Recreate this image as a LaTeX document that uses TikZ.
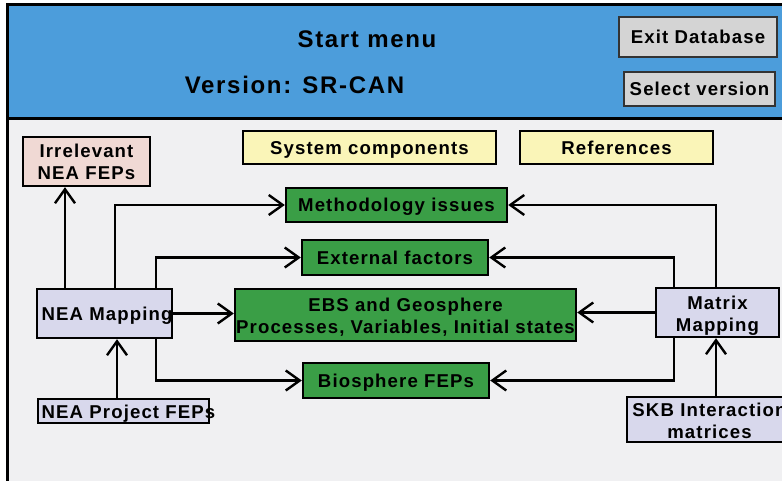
\documentclass[tikz,border=0pt]{standalone}
\usepackage{fontspec}
\setmainfont{Liberation Sans}[LetterSpace=6]
\newfontfamily\headfont{Liberation Sans}[LetterSpace=7]
\usetikzlibrary{arrows.meta}

\definecolor{pagegray}{HTML}{F0F0F2}
\definecolor{headblue}{HTML}{4C9DDB}
\definecolor{btngray}{HTML}{D4D4D4}
\definecolor{notepaper}{HTML}{FAF5B8}
\definecolor{rosebox}{HTML}{F0D9D4}
\definecolor{fepgreen}{HTML}{3A9E46}
\definecolor{mapblue}{HTML}{D8D8EC}

\tikzset{
  box/.style={draw=black, line width=2.4pt, inner sep=0pt,
    font=\bfseries\fontsize{18.6}{22}\selectfont},
  thinbox/.style={box, line width=1.6pt},
  greenbox/.style={box, fill=fepgreen},
  mapbox/.style={box, fill=mapblue},
  srcbox/.style={thinbox, fill=mapblue},
  notebox/.style={box, fill=notepaper},
  rosebx/.style={box, fill=rosebox},
  button/.style={draw=black!80, line width=1.6pt, fill=btngray, inner sep=0pt,
    font=\bfseries\fontsize{18.6}{22}\selectfont},
  headtext/.style={inner sep=0pt, anchor=base,
    font=\headfont\bfseries\fontsize{24}{28}\selectfont},
  conn/.style={line width=2.4pt, -{Straight Barb[length=14pt, width=20pt]}},
}

% box from its corners: name, style, x1, y1, x2, y2, text
\newcommand\cornerbox[7]{%
  \node[#2, minimum width={#5-#3}, minimum height={#6-#4}] (#1)
    at ({(#3+#5)/2},{(#4+#6)/2}) {#7};}
% labels of zero size, so that a box keeps its own size and the text
% may run past its border
\newcommand\oneline[2][0pt]{%
  \makebox[0pt]{\raisebox{-7pt}[0pt][0pt]{\hspace*{#1}#2}}}
\newcommand\twolines[2]{%
  \makebox[0pt]{\raisebox{3.5pt}[0pt][0pt]{#1}}%
  \makebox[0pt]{\raisebox{-18.5pt}[0pt][0pt]{#2}}}

\begin{document}
\begin{tikzpicture}[x=1pt, y=-1pt]
\useasboundingbox (0,0) rectangle (782,481);
\fill[white] (0,0) rectangle (782,481);

% window frame and header bar
\fill[pagegray] (7,5) rectangle (792,490);
\fill[headblue] (7,5) rectangle (792,119);
\draw[line width=3pt] (7,490) -- (7,5) -- (792,5);
\draw[line width=3pt] (7,119) -- (792,119);

\node[headtext] (title) at (367,47.3) {Start menu};
\node[headtext] (version) at (294.5,94) {Version: SR-CAN};
\cornerbox{exit}{button}{619}{17}{777}{57}{\oneline{Exit Database}}
\cornerbox{select}{button}{624}{72}{775}{106}{\oneline{Select version}}

% menu entries
\cornerbox{syscomp}{notebox}{243}{131}{496}{164}{\oneline{System components}}
\cornerbox{refs}{notebox}{520}{131}{713}{164}{\oneline{References}}
\cornerbox{irr}{rosebx}{23}{137}{150}{186}{\twolines{Irrelevant}{NEA FEPs}}

\cornerbox{meth}{greenbox}{286}{188}{507}{222}{\oneline{Methodology issues}}
\cornerbox{ext}{greenbox}{302}{240}{488}{275}{\oneline{External factors}}
\cornerbox{ebs}{greenbox}{235}{289}{576}{341}{\twolines{EBS and Geosphere}{Processes, Variables, Initial states}}
\cornerbox{bio}{greenbox}{303}{363}{489}{398}{\oneline{Biosphere FEPs}}

\cornerbox{nea}{mapbox}{37}{289}{172}{338}{\oneline[5pt]{NEA Mapping}}
\cornerbox{mat}{mapbox}{656}{288}{779}{337}{\twolines{Matrix}{Mapping}}
\cornerbox{proj}{srcbox}{38}{399}{209}{423}{\oneline[10pt]{NEA Project FEPs}}
\cornerbox{skb}{srcbox}{627}{397}{792}{442}{\twolines{SKB Interaction}{matrices}}

% connector columns
\coordinate (xa) at (65,0);
\coordinate (xb) at (115,0);
\coordinate (xc) at (156,0);
\coordinate (xd) at (117,0);
\coordinate (xe) at (674,0);
\coordinate (xf) at (716,0);

% connectors
\draw[conn] (nea.north -| xa) -- (irr.south -| xa);
\draw[conn] (nea.north -| xb) |- (meth.west);
\draw[conn] (nea.north -| xc) |- (ext.west);
\draw[conn] (nea.east) -- (nea.east -| ebs.west);
\draw[conn] (nea.south -| xc) |- (bio.west);
\draw[conn] (proj.north -| xd) -- (nea.south -| xd);

\draw[conn] (mat.north -| xf) |- (meth.east);
\draw[conn] (mat.north -| xe) |- (ext.east);
\draw[conn] (mat.west) -- (mat.west -| ebs.east);
\draw[conn] (mat.south -| xe) |- (bio.east);
\draw[conn] (skb.north -| xf) -- (mat.south -| xf);
\end{tikzpicture}
\end{document}
